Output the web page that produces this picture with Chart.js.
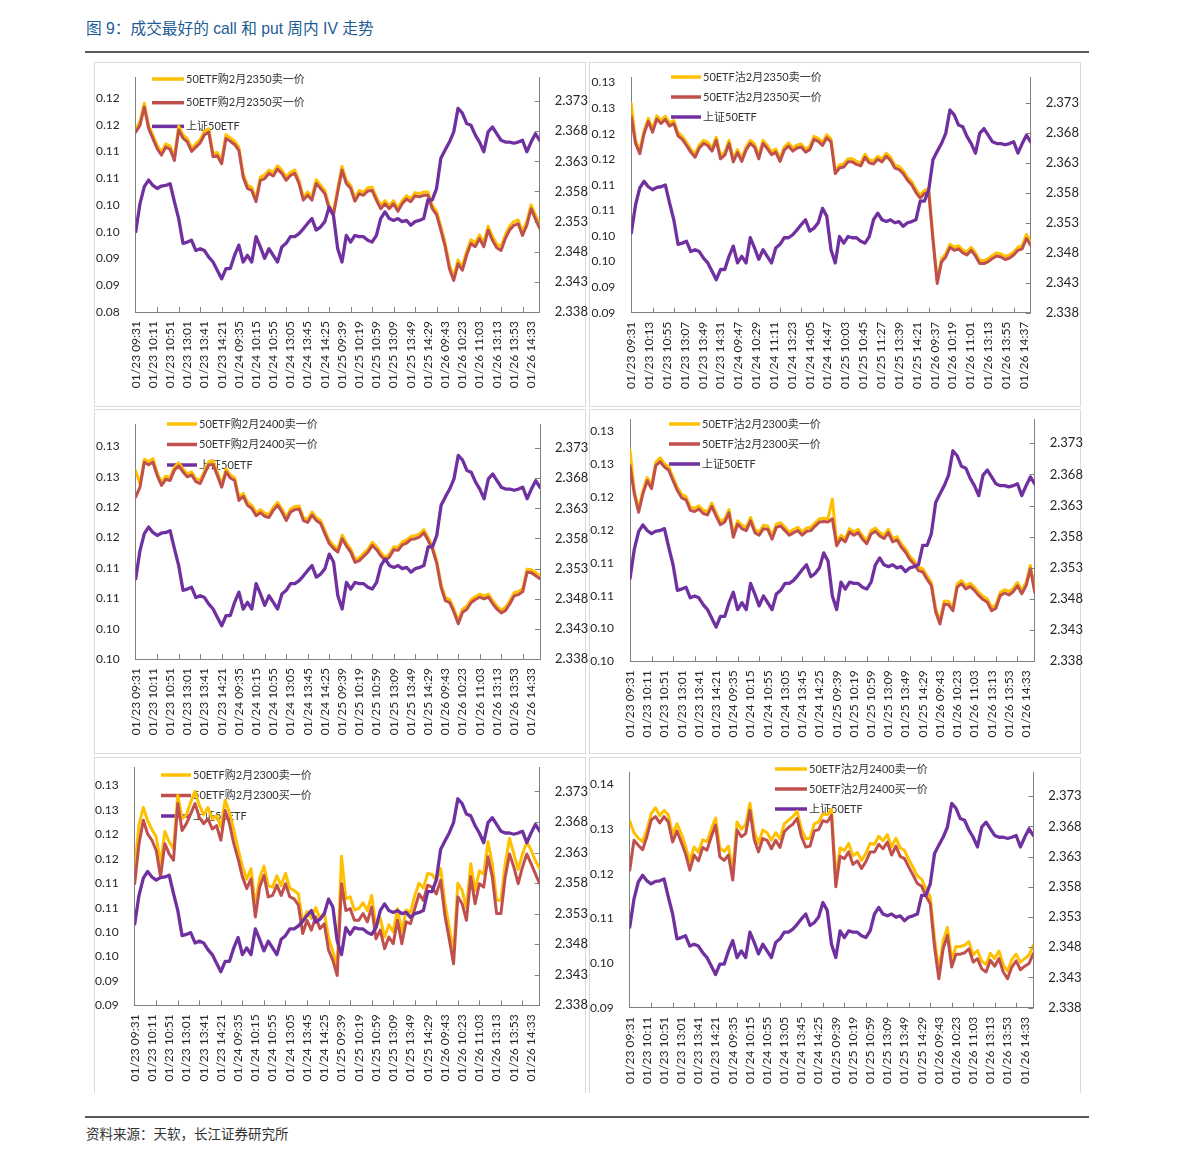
<!DOCTYPE html>
<html>
<head>
<meta charset="utf-8">
<title>成交最好的 call 和 put 周内 IV 走势</title>
<script src="https://cdn.jsdelivr.net/npm/chart.js@4.4.1/dist/chart.umd.min.js"></script>
<style>
  html, body { margin: 0; padding: 0; background: #fff; }
  #page { position: relative; width: 1191px; height: 1161px; overflow: hidden; background: #fff; }
  .title { position: absolute; left: 86px; top: 18px; font-size: 15.7px; line-height: 21px; color: #1d5c94;
           font-family: "Liberation Sans", "Noto Sans CJK SC", sans-serif; white-space: nowrap; }
  .rule { position: absolute; left: 85px; width: 1004px; height: 2px; background: #5a5a5a; }
  .source { position: absolute; left: 86px; top: 1124px; font-size: 13.5px; line-height: 18px; color: #333;
            font-family: "Noto Sans CJK SC", sans-serif; white-space: nowrap; }
  .panel { position: absolute; border: 1px solid #dadada; box-sizing: border-box; }
  .panel.open { border-bottom: none; }
  canvas { position: absolute; }
</style>
</head>
<body>
<div id="page">
  <div class="title">图 9：成交最好的 call 和 put 周内 IV 走势</div>
  <div class="rule" style="top:51px"></div>
  <div class="rule" style="top:1116px"></div>
  <div class="source">资料来源：天软，长江证券研究所</div>
</div>
<script>
(function () {
  // one sample every 10 minute-slots of the trading session
  const STEP = 10;

  const timeLabels40 = [
    "01/23 09:31", "01/23 10:11", "01/23 10:51", "01/23 13:01", "01/23 13:41", "01/23 14:21",
    "01/24 09:35", "01/24 10:15", "01/24 10:55", "01/24 13:05", "01/24 13:45", "01/24 14:25",
    "01/25 09:39", "01/25 10:19", "01/25 10:59", "01/25 13:09", "01/25 13:49", "01/25 14:29",
    "01/26 09:43", "01/26 10:23", "01/26 11:03", "01/26 13:13", "01/26 13:53", "01/26 14:33",
  ];
  const timeLabels42 = [
    "01/23 09:31", "01/23 10:13", "01/23 10:55", "01/23 13:07", "01/23 13:49", "01/23 14:31",
    "01/24 09:47", "01/24 10:29", "01/24 11:11", "01/24 13:23", "01/24 14:05", "01/24 14:47",
    "01/25 10:03", "01/25 10:45", "01/25 11:27", "01/25 13:39", "01/25 14:21",
    "01/26 09:37", "01/26 10:19", "01/26 11:01", "01/26 13:13", "01/26 13:55", "01/26 14:37",
  ];

  const rightTickLabels = ["2.338", "2.343", "2.348", "2.353", "2.358", "2.363", "2.368", "2.373"];
  const leftTicks080 = ["0.08", "0.09", "0.09", "0.10", "0.10", "0.11", "0.11", "0.12", "0.12"];
  const leftTicks088 = ["0.09", "0.09", "0.10", "0.10", "0.11", "0.11", "0.12", "0.12", "0.13", "0.13"];
  const leftTicks098 = ["0.10", "0.10", "0.11", "0.11", "0.12", "0.12", "0.13", "0.13"];
  const leftTicks090 = ["0.09", "0.10", "0.11", "0.12", "0.13", "0.14"];

  const etfName = "上证50ETF";
  const etf50 = [
    2.3513, 2.3560, 2.3588, 2.3599, 2.3590, 2.3585, 2.3589, 2.3590, 2.3593, 2.3563,
    2.3535, 2.3494, 2.3496, 2.3499, 2.3482, 2.3485, 2.3482, 2.3471, 2.3463, 2.3449,
    2.3435, 2.3452, 2.3452, 2.3474, 2.3491, 2.3463, 2.3474, 2.3463, 2.3505, 2.3488,
    2.3469, 2.3485, 2.3474, 2.3463, 2.3488, 2.3494, 2.3505, 2.3505, 2.3510, 2.3518,
    2.3527, 2.3535, 2.3516, 2.3521, 2.3530, 2.3554, 2.3541, 2.3485, 2.3463, 2.3507,
    2.3496, 2.3507, 2.3505, 2.3505, 2.3499, 2.3496, 2.3507, 2.3535, 2.3546, 2.3535,
    2.3532, 2.3535, 2.3530, 2.3532, 2.3524, 2.3530, 2.3532, 2.3535, 2.3566, 2.3566,
    2.3585, 2.3635, 2.3649, 2.3662, 2.3679, 2.3718, 2.3710, 2.3693, 2.3690, 2.3674,
    2.3662, 2.3646, 2.3679, 2.3687, 2.3676, 2.3665, 2.3662, 2.3662, 2.3660, 2.3662,
    2.3665, 2.3646, 2.3662, 2.3676, 2.3665,
  ];

  // 50ETF购2月2350
  const c2350Ask = [
    0.1142, 0.1156, 0.1190, 0.1149, 0.1130, 0.1111, 0.1099, 0.1114, 0.1110, 0.1089,
    0.1147, 0.1131, 0.1124, 0.1106, 0.1114, 0.1122, 0.1138, 0.1142, 0.1096, 0.1098,
    0.1083, 0.1131, 0.1125, 0.1119, 0.1108, 0.1058, 0.1037, 0.1033, 0.1012, 0.1052,
    0.1056, 0.1065, 0.1061, 0.1073, 0.1065, 0.1052, 0.1061, 0.1065, 0.1046, 0.1015,
    0.1024, 0.1015, 0.1047, 0.1037, 0.1027, 0.0999, 0.0987, 0.1031, 0.1072, 0.1046,
    0.1037, 0.1013, 0.1027, 0.1024, 0.1032, 0.1033, 0.1015, 0.0999, 0.1008, 0.0999,
    0.1008, 0.0994, 0.1008, 0.1017, 0.1012, 0.1023, 0.1021, 0.1024, 0.1024, 0.0999,
    0.0988, 0.0960, 0.0929, 0.0888, 0.0866, 0.0897, 0.0885, 0.0913, 0.0935, 0.0929,
    0.0944, 0.0929, 0.0960, 0.0941, 0.0927, 0.0922, 0.0944, 0.0960, 0.0969, 0.0972,
    0.0950, 0.0969, 0.1000, 0.0981, 0.0963,
  ];
  const c2350Bid = [
    0.1136, 0.1149, 0.1183, 0.1143, 0.1124, 0.1105, 0.1093, 0.1108, 0.1104, 0.1083,
    0.1140, 0.1125, 0.1118, 0.1100, 0.1108, 0.1116, 0.1131, 0.1136, 0.1090, 0.1092,
    0.1077, 0.1124, 0.1119, 0.1113, 0.1102, 0.1052, 0.1031, 0.1027, 0.1006, 0.1046,
    0.1049, 0.1059, 0.1054, 0.1067, 0.1059, 0.1046, 0.1055, 0.1059, 0.1040, 0.1009,
    0.1018, 0.1009, 0.1040, 0.1031, 0.1021, 0.0993, 0.0981, 0.1024, 0.1065, 0.1040,
    0.1031, 0.1007, 0.1021, 0.1018, 0.1026, 0.1027, 0.1009, 0.0993, 0.1002, 0.0993,
    0.1002, 0.0988, 0.1002, 0.1011, 0.1006, 0.1017, 0.1015, 0.1018, 0.1018, 0.0993,
    0.0982, 0.0953, 0.0922, 0.0881, 0.0859, 0.0890, 0.0878, 0.0906, 0.0928, 0.0922,
    0.0937, 0.0922, 0.0953, 0.0934, 0.0920, 0.0915, 0.0937, 0.0953, 0.0962, 0.0965,
    0.0943, 0.0962, 0.0993, 0.0974, 0.0956,
  ];

  // 50ETF沽2月2350
  const p2350Ask = [
    0.1289, 0.1217, 0.1197, 0.1236, 0.1260, 0.1239, 0.1265, 0.1256, 0.1264, 0.1251,
    0.1256, 0.1232, 0.1225, 0.1213, 0.1200, 0.1190, 0.1208, 0.1217, 0.1213, 0.1202,
    0.1223, 0.1187, 0.1194, 0.1217, 0.1181, 0.1199, 0.1182, 0.1204, 0.1217, 0.1210,
    0.1187, 0.1217, 0.1207, 0.1195, 0.1200, 0.1182, 0.1204, 0.1212, 0.1202, 0.1208,
    0.1210, 0.1200, 0.1205, 0.1225, 0.1221, 0.1213, 0.1228, 0.1220, 0.1158, 0.1169,
    0.1171, 0.1181, 0.1181, 0.1176, 0.1173, 0.1190, 0.1179, 0.1177, 0.1186, 0.1181,
    0.1192, 0.1184, 0.1169, 0.1166, 0.1158, 0.1145, 0.1136, 0.1121, 0.1110, 0.1119,
    0.1122, 0.1028, 0.0943, 0.0985, 0.0995, 0.1014, 0.1008, 0.1011, 0.1003, 0.0999,
    0.1008, 0.0997, 0.0982, 0.0982, 0.0986, 0.0992, 0.0997, 0.0995, 0.0990, 0.0993,
    0.0999, 0.1008, 0.1011, 0.1033, 0.1018,
  ];
  const p2350Bid = [
    0.1263, 0.1211, 0.1191, 0.1230, 0.1254, 0.1233, 0.1259, 0.1250, 0.1258, 0.1245,
    0.1250, 0.1226, 0.1219, 0.1207, 0.1194, 0.1184, 0.1202, 0.1211, 0.1207, 0.1196,
    0.1217, 0.1181, 0.1188, 0.1211, 0.1175, 0.1193, 0.1176, 0.1198, 0.1211, 0.1204,
    0.1181, 0.1211, 0.1201, 0.1189, 0.1194, 0.1176, 0.1198, 0.1206, 0.1196, 0.1202,
    0.1204, 0.1194, 0.1199, 0.1219, 0.1215, 0.1207, 0.1222, 0.1214, 0.1152, 0.1163,
    0.1165, 0.1175, 0.1175, 0.1170, 0.1167, 0.1184, 0.1173, 0.1171, 0.1180, 0.1175,
    0.1186, 0.1178, 0.1163, 0.1160, 0.1152, 0.1139, 0.1130, 0.1115, 0.1104, 0.1113,
    0.1116, 0.1022, 0.0937, 0.0979, 0.0989, 0.1008, 0.1002, 0.1005, 0.0997, 0.0993,
    0.1002, 0.0991, 0.0976, 0.0976, 0.0980, 0.0986, 0.0991, 0.0989, 0.0984, 0.0987,
    0.0993, 0.1002, 0.1005, 0.1025, 0.1012,
  ];

  // 50ETF购2月2400
  const c2400Ask = [
    0.1290, 0.1268, 0.1309, 0.1305, 0.1310, 0.1287, 0.1271, 0.1281, 0.1279, 0.1296,
    0.1303, 0.1293, 0.1285, 0.1288, 0.1277, 0.1274, 0.1290, 0.1305, 0.1306, 0.1287,
    0.1268, 0.1293, 0.1283, 0.1279, 0.1246, 0.1253, 0.1238, 0.1233, 0.1221, 0.1226,
    0.1220, 0.1218, 0.1230, 0.1238, 0.1227, 0.1213, 0.1227, 0.1231, 0.1232, 0.1213,
    0.1210, 0.1222, 0.1213, 0.1208, 0.1191, 0.1175, 0.1167, 0.1161, 0.1184, 0.1171,
    0.1161, 0.1144, 0.1147, 0.1154, 0.1161, 0.1172, 0.1165, 0.1155, 0.1147, 0.1153,
    0.1165, 0.1164, 0.1173, 0.1176, 0.1182, 0.1183, 0.1186, 0.1193, 0.1180, 0.1166,
    0.1142, 0.1103, 0.1081, 0.1078, 0.1062, 0.1043, 0.1062, 0.1067, 0.1078, 0.1083,
    0.1087, 0.1084, 0.1087, 0.1076, 0.1067, 0.1061, 0.1065, 0.1076, 0.1089, 0.1091,
    0.1096, 0.1128, 0.1127, 0.1122, 0.1117,
  ];
  const c2400Bid = [
    0.1247, 0.1263, 0.1304, 0.1300, 0.1304, 0.1282, 0.1266, 0.1276, 0.1274, 0.1291,
    0.1298, 0.1288, 0.1280, 0.1283, 0.1272, 0.1269, 0.1285, 0.1300, 0.1300, 0.1282,
    0.1263, 0.1288, 0.1278, 0.1274, 0.1241, 0.1248, 0.1233, 0.1228, 0.1216, 0.1221,
    0.1215, 0.1213, 0.1225, 0.1233, 0.1222, 0.1208, 0.1222, 0.1226, 0.1227, 0.1208,
    0.1205, 0.1217, 0.1208, 0.1203, 0.1186, 0.1170, 0.1162, 0.1156, 0.1178, 0.1166,
    0.1156, 0.1139, 0.1142, 0.1149, 0.1156, 0.1167, 0.1160, 0.1150, 0.1142, 0.1148,
    0.1160, 0.1159, 0.1168, 0.1171, 0.1177, 0.1178, 0.1181, 0.1188, 0.1175, 0.1161,
    0.1137, 0.1098, 0.1076, 0.1073, 0.1057, 0.1038, 0.1057, 0.1062, 0.1073, 0.1078,
    0.1082, 0.1079, 0.1082, 0.1071, 0.1062, 0.1056, 0.1060, 0.1071, 0.1084, 0.1086,
    0.1091, 0.1123, 0.1122, 0.1117, 0.1112,
  ];

  // 50ETF沽2月2300
  const p2300Ask = [
    0.1301, 0.1240, 0.1212, 0.1240, 0.1260, 0.1248, 0.1283, 0.1290, 0.1281, 0.1276,
    0.1260, 0.1245, 0.1234, 0.1231, 0.1215, 0.1213, 0.1217, 0.1210, 0.1208, 0.1221,
    0.1206, 0.1193, 0.1197, 0.1211, 0.1174, 0.1194, 0.1187, 0.1184, 0.1199, 0.1181,
    0.1177, 0.1187, 0.1186, 0.1171, 0.1189, 0.1191, 0.1184, 0.1177, 0.1181, 0.1184,
    0.1177, 0.1183, 0.1184, 0.1191, 0.1197, 0.1198, 0.1197, 0.1227, 0.1161, 0.1172,
    0.1167, 0.1182, 0.1177, 0.1181, 0.1171, 0.1164, 0.1179, 0.1183, 0.1176, 0.1172,
    0.1181, 0.1167, 0.1170, 0.1159, 0.1151, 0.1140, 0.1133, 0.1123, 0.1121, 0.1110,
    0.1100, 0.1060, 0.1042, 0.1072, 0.1071, 0.1062, 0.1098, 0.1103, 0.1095, 0.1099,
    0.1093, 0.1085, 0.1079, 0.1075, 0.1062, 0.1066, 0.1085, 0.1089, 0.1086, 0.1091,
    0.1100, 0.1088, 0.1100, 0.1126, 0.1090,
  ];
  const p2300Bid = [
    0.1278, 0.1235, 0.1207, 0.1235, 0.1255, 0.1243, 0.1278, 0.1284, 0.1276, 0.1271,
    0.1255, 0.1240, 0.1229, 0.1226, 0.1210, 0.1208, 0.1212, 0.1205, 0.1203, 0.1216,
    0.1201, 0.1188, 0.1192, 0.1206, 0.1169, 0.1189, 0.1182, 0.1179, 0.1194, 0.1176,
    0.1172, 0.1182, 0.1181, 0.1166, 0.1184, 0.1186, 0.1179, 0.1172, 0.1176, 0.1179,
    0.1172, 0.1178, 0.1179, 0.1186, 0.1192, 0.1193, 0.1192, 0.1197, 0.1156, 0.1167,
    0.1162, 0.1177, 0.1172, 0.1176, 0.1166, 0.1159, 0.1174, 0.1178, 0.1171, 0.1167,
    0.1176, 0.1162, 0.1165, 0.1154, 0.1146, 0.1135, 0.1128, 0.1118, 0.1116, 0.1105,
    0.1095, 0.1055, 0.1037, 0.1067, 0.1066, 0.1057, 0.1093, 0.1098, 0.1090, 0.1094,
    0.1088, 0.1080, 0.1074, 0.1070, 0.1057, 0.1061, 0.1080, 0.1084, 0.1081, 0.1086,
    0.1095, 0.1083, 0.1095, 0.1121, 0.1085,
  ];

  // 50ETF购2月2300
  const c2300Ask = [
    0.1160, 0.1250, 0.1285, 0.1258, 0.1240, 0.1225, 0.1170, 0.1236, 0.1215, 0.1200,
    0.1310, 0.1262, 0.1270, 0.1296, 0.1318, 0.1290, 0.1270, 0.1285, 0.1262, 0.1268,
    0.1245, 0.1300, 0.1275, 0.1240, 0.1200, 0.1165, 0.1138, 0.1160, 0.1085, 0.1140,
    0.1165, 0.1125, 0.1122, 0.1145, 0.1125, 0.1150, 0.1120, 0.1115, 0.1108, 0.1050,
    0.1072, 0.1058, 0.1080, 0.1058, 0.1070, 0.1018, 0.0990, 0.0960, 0.1185, 0.1098,
    0.1102, 0.1075, 0.1078, 0.1090, 0.1074, 0.1105, 0.1040, 0.1058, 0.1020, 0.1045,
    0.1030, 0.1078, 0.1030, 0.1075, 0.1070, 0.1105, 0.1130, 0.1120, 0.1150, 0.1148,
    0.1135, 0.1160, 0.1090, 0.1040, 0.0985, 0.1130, 0.1115, 0.1080, 0.1170, 0.1115,
    0.1155, 0.1148, 0.1215, 0.1170, 0.1095, 0.1095, 0.1170, 0.1222, 0.1190, 0.1158,
    0.1190, 0.1215, 0.1198, 0.1176, 0.1160,
  ];
  const c2300Bid = [
    0.1129, 0.1211, 0.1259, 0.1231, 0.1218, 0.1197, 0.1143, 0.1211, 0.1190, 0.1177,
    0.1293, 0.1238, 0.1252, 0.1272, 0.1293, 0.1265, 0.1252, 0.1262, 0.1241, 0.1248,
    0.1218, 0.1279, 0.1252, 0.1211, 0.1180, 0.1143, 0.1119, 0.1139, 0.1061, 0.1122,
    0.1146, 0.1102, 0.1105, 0.1126, 0.1105, 0.1129, 0.1102, 0.1098, 0.1085, 0.1027,
    0.1054, 0.1034, 0.1061, 0.1037, 0.1047, 0.0993, 0.0972, 0.0941, 0.1129, 0.1074,
    0.1078, 0.1054, 0.1054, 0.1068, 0.1051, 0.1081, 0.1016, 0.1034, 0.0996, 0.1020,
    0.1006, 0.1054, 0.1006, 0.1051, 0.1047, 0.1078, 0.1108, 0.1095, 0.1126, 0.1122,
    0.1108, 0.1136, 0.1064, 0.1016, 0.0965, 0.1102, 0.1088, 0.1054, 0.1143, 0.1088,
    0.1129, 0.1122, 0.1184, 0.1143, 0.1068, 0.1068, 0.1143, 0.1190, 0.1163, 0.1129,
    0.1163, 0.1190, 0.1170, 0.1149, 0.1129,
  ];

  // 50ETF沽2月2400
  const p2400Ask = [
    0.1318, 0.1292, 0.1280, 0.1272, 0.1298, 0.1335, 0.1348, 0.1330, 0.1342, 0.1332,
    0.1288, 0.1312, 0.1290, 0.1262, 0.1228, 0.1260, 0.1248, 0.1276, 0.1272, 0.1300,
    0.1325, 0.1258, 0.1250, 0.1262, 0.1205, 0.1316, 0.1300, 0.1310, 0.1358, 0.1295,
    0.1268, 0.1298, 0.1292, 0.1275, 0.1292, 0.1278, 0.1312, 0.1320, 0.1328, 0.1340,
    0.1300, 0.1278, 0.1280, 0.1312, 0.1316, 0.1334, 0.1332, 0.1345, 0.1190, 0.1258,
    0.1252, 0.1268, 0.1240, 0.1248, 0.1230, 0.1246, 0.1268, 0.1266, 0.1284, 0.1274,
    0.1288, 0.1260, 0.1280, 0.1258, 0.1252, 0.1232, 0.1214, 0.1195, 0.1188, 0.1166,
    0.1148, 0.1055, 0.0982, 0.1050, 0.1080, 0.1008, 0.1037, 0.1037, 0.1040, 0.1048,
    0.1018, 0.1028, 0.1004, 0.0997, 0.1022, 0.1010, 0.1027, 0.0996, 0.0982, 0.1008,
    0.1020, 0.1002, 0.1010, 0.1018, 0.1040,
  ];
  const p2400Bid = [
    0.1208, 0.1275, 0.1264, 0.1254, 0.1283, 0.1320, 0.1328, 0.1314, 0.1328, 0.1316,
    0.1271, 0.1296, 0.1271, 0.1245, 0.1208, 0.1242, 0.1229, 0.1259, 0.1253, 0.1283,
    0.1309, 0.1238, 0.1230, 0.1242, 0.1186, 0.1298, 0.1283, 0.1290, 0.1342, 0.1277,
    0.1249, 0.1279, 0.1275, 0.1256, 0.1275, 0.1259, 0.1294, 0.1304, 0.1311, 0.1324,
    0.1283, 0.1260, 0.1262, 0.1296, 0.1299, 0.1319, 0.1316, 0.1331, 0.1171, 0.1239,
    0.1234, 0.1249, 0.1221, 0.1229, 0.1212, 0.1227, 0.1249, 0.1249, 0.1266, 0.1256,
    0.1271, 0.1242, 0.1262, 0.1239, 0.1234, 0.1215, 0.1197, 0.1178, 0.1172, 0.1150,
    0.1133, 0.1036, 0.0965, 0.1032, 0.1062, 0.0991, 0.1020, 0.1020, 0.1023, 0.1032,
    0.1002, 0.1010, 0.0987, 0.0980, 0.1006, 0.0993, 0.1010, 0.0980, 0.0965, 0.0991,
    0.1005, 0.0985, 0.0993, 0.0999, 0.1021,
  ];

  const ASK_COLOR = "#FFC000";
  const BID_COLOR = "#C0504D";
  const ETF_COLOR = "#7030A0";
  const AXIS_COLOR = "#808080";
  const TEXT_COLOR = "#262626";
  const CANVAS_W = 498;
  const X_TICK_EVERY = 50;

  // box: [left, top, width, height] on the page; plot: [left, top, right, bottom] inside the box
  const panels = [
    {
      names: ["50ETF购2月2350卖一价", "50ETF购2月2350买一价"], ask: c2350Ask, bid: c2350Bid,
      xLabels: timeLabels40, xEvery: 40,
      left: { min: 0.08, max: 0.1239, start: 0.08, step: 0.005, labels: leftTicks080 }, rightMax: 2.377,
      box: [94, 62, 492, 345], plot: [41.7, 15, 445.7, 250],
      legend: { x: 58, y: 17, gap: 23.7, len: 32 },
    },
    {
      names: ["50ETF沽2月2350卖一价", "50ETF沽2月2350买一价"], ask: p2350Ask, bid: p2350Bid,
      xLabels: timeLabels42, xEvery: 42,
      left: { min: 0.088, max: 0.1341, start: 0.088, step: 0.005, labels: leftTicks088 }, rightMax: 2.3773,
      box: [589, 62, 492, 345], plot: [42.3, 15, 441.7, 250.7],
      legend: { x: 82, y: 15, gap: 20, len: 30 },
    },
    {
      names: ["50ETF购2月2400卖一价", "50ETF购2月2400买一价"], ask: c2400Ask, bid: c2400Bid,
      xLabels: timeLabels40, xEvery: 40,
      left: { min: 0.098, max: 0.1367, start: 0.098, step: 0.005, labels: leftTicks098 }, rightMax: 2.377,
      box: [94, 409, 492, 345], plot: [41.7, 15, 446, 250],
      legend: { x: 73, y: 15, gap: 20.5, len: 30 },
    },
    {
      names: ["50ETF沽2月2300卖一价", "50ETF沽2月2300买一价"], ask: p2300Ask, bid: p2300Bid,
      xLabels: timeLabels40, xEvery: 40,
      left: { min: 0.098, max: 0.1349, start: 0.098, step: 0.005, labels: leftTicks098 }, rightMax: 2.3769,
      box: [589, 409, 492, 345], plot: [41, 10, 445.7, 252.3],
      legend: { x: 80, y: 15, gap: 20, len: 31 },
    },
    {
      names: ["50ETF购2月2300卖一价", "50ETF购2月2300买一价"], ask: c2300Ask, bid: c2300Bid,
      xLabels: timeLabels40, xEvery: 40,
      left: { min: 0.088, max: 0.1368, start: 0.088, step: 0.005, labels: leftTicks088 }, rightMax: 2.377,
      box: [94, 757, 492, 336], plot: [40.7, 10, 445.7, 248.3], open: true,
      legend: { x: 67, y: 18, gap: 20.5, len: 30 },
    },
    {
      names: ["50ETF沽2月2400卖一价", "50ETF沽2月2400买一价"], ask: p2400Ask, bid: p2400Bid,
      xLabels: timeLabels40, xEvery: 40,
      left: { min: 0.09, max: 0.1428, start: 0.09, step: 0.01, labels: leftTicks090 }, rightMax: 2.377,
      box: [589, 757, 492, 336], plot: [40.7, 15, 444.3, 250.7], open: true,
      legend: { x: 186, y: 12, gap: 20, len: 32 },
    },
  ];

  // legend sits inside the plot, under the lines
  const panelLegend = {
    id: "panelLegend",
    beforeDatasetsDraw(chart, args, opts) {
      const ctx = chart.ctx;
      ctx.save();
      ctx.font = '11px Lato, "Noto Sans CJK SC", sans-serif';
      ctx.textBaseline = "middle";
      chart.data.datasets.forEach((ds, i) => {
        const y = opts.y + i * opts.gap;
        ctx.strokeStyle = ds.borderColor;
        ctx.lineWidth = 3.5;
        ctx.beginPath();
        ctx.moveTo(opts.x, y);
        ctx.lineTo(opts.x + opts.len, y);
        ctx.stroke();
        ctx.fillStyle = "#333";
        ctx.fillText(ds.label, opts.x + opts.len + 2, y);
      });
      ctx.restore();
    },
  };

  // short tick marks pointing into the plot, like the Excel original
  const innerTicks = {
    id: "innerTicks",
    afterDraw(chart) {
      const { ctx, chartArea: a, scales } = chart;
      ctx.save();
      ctx.strokeStyle = AXIS_COLOR;
      ctx.lineWidth = 1;
      ctx.beginPath();
      scales.yR.ticks.forEach((t) => {
        const y = Math.round(scales.yR.getPixelForValue(t.value)) + 0.5;
        ctx.moveTo(a.right - 5, y);
        ctx.lineTo(a.right, y);
      });
      for (let v = X_TICK_EVERY; v < scales.x.max; v += X_TICK_EVERY) {
        const x = Math.round(scales.x.getPixelForValue(v)) + 0.5;
        ctx.moveTo(x, a.bottom);
        ctx.lineTo(x, a.bottom - 5);
      }
      ctx.stroke();
      ctx.restore();
    },
  };

  function toPoints(arr) {
    return arr.map((y, i) => ({ x: i * STEP, y }));
  }

  function noPad(s) {
    s.paddingTop = 0;
    s.paddingBottom = 0;
    s.paddingLeft = 0;
    s.paddingRight = 0;
  }

  function makePanel(p) {
    const page = document.getElementById("page");
    const frame = document.createElement("div");
    frame.className = "panel" + (p.open ? " open" : "");
    frame.style.left = p.box[0] + "px";
    frame.style.top = p.box[1] + "px";
    frame.style.width = p.box[2] + "px";
    frame.style.height = p.box[3] + "px";
    page.appendChild(frame);

    const cv = document.createElement("canvas");
    cv.width = CANVAS_W;
    cv.height = p.box[3];
    cv.style.left = p.box[0] + "px";
    cv.style.top = p.box[1] + "px";
    page.appendChild(cv);

    const [pl, pt, pr, pb] = p.plot;
    const border = { display: true, color: AXIS_COLOR, width: 1 };
    const noGrid = { display: false, drawTicks: false };

    new Chart(cv, {
      type: "line",
      data: {
        datasets: [
          { label: p.names[0], data: toPoints(p.ask), yAxisID: "yL", borderColor: ASK_COLOR, borderWidth: 3, order: 3 },
          { label: p.names[1], data: toPoints(p.bid), yAxisID: "yL", borderColor: BID_COLOR, borderWidth: 3, order: 2 },
          { label: etfName, data: toPoints(etf50), yAxisID: "yR", borderColor: ETF_COLOR, borderWidth: 3.3, order: 1 },
        ],
      },
      options: {
        responsive: false,
        animation: false,
        devicePixelRatio: 1,
        layout: { padding: { top: pt, left: 0, right: 0, bottom: 0 } },
        elements: {
          point: { radius: 0 },
          line: { tension: 0, borderJoinStyle: "round", borderCapStyle: "round" },
        },
        plugins: {
          legend: { display: false },
          tooltip: { enabled: false },
          panelLegend: p.legend,
        },
        scales: {
          x: {
            type: "linear",
            min: 0,
            max: (etf50.length - 1) * STEP,
            bounds: "data",
            grid: noGrid,
            border: border,
            afterBuildTicks: (s) => {
              s.ticks = p.xLabels.map((_, k) => ({ value: k * p.xEvery }));
            },
            afterFit: (s) => {
              s.height = p.box[3] - pb;
              noPad(s);
            },
            ticks: {
              autoSkip: false,
              minRotation: 90,
              maxRotation: 90,
              padding: 9,
              color: TEXT_COLOR,
              font: { family: "Lato", size: 12 },
              callback: (v, i) => p.xLabels[i],
            },
          },
          yL: {
            type: "linear",
            position: "left",
            min: p.left.min,
            max: p.left.max,
            bounds: "data",
            grid: noGrid,
            border: border,
            afterBuildTicks: (s) => {
              s.ticks = p.left.labels.map((_, k) => ({ value: p.left.start + k * p.left.step }));
            },
            afterFit: (s) => {
              s.width = pl;
              noPad(s);
            },
            ticks: {
              autoSkip: false,
              padding: 16,
              color: TEXT_COLOR,
              font: { family: "Lato", size: 12 },
              callback: (v, i) => p.left.labels[i],
            },
          },
          yR: {
            type: "linear",
            position: "right",
            min: 2.338,
            max: p.rightMax,
            bounds: "data",
            grid: noGrid,
            border: border,
            afterBuildTicks: (s) => {
              s.ticks = rightTickLabels.map((_, k) => ({ value: 2.338 + k * 0.005 }));
            },
            afterFit: (s) => {
              s.width = CANVAS_W - pr;
              noPad(s);
            },
            ticks: {
              autoSkip: false,
              padding: 15,
              color: TEXT_COLOR,
              font: { family: "Lato", size: 13 },
              callback: (v, i) => rightTickLabels[i],
            },
          },
        },
      },
      plugins: [panelLegend, innerTicks],
    });
  }

  panels.forEach(makePanel);
})();
</script>
</body>
</html>
